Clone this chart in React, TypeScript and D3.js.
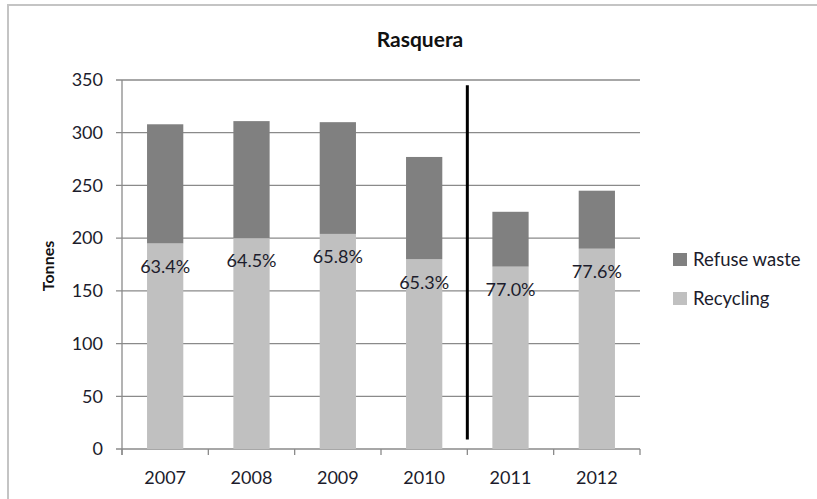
import React, { useEffect, useRef } from 'react';
import * as d3 from 'd3';

// chart data
const years = ['2007', '2008', '2009', '2010', '2011', '2012'];
const recycling = [195, 200, 204, 180, 173, 190];
const refuse = [113, 111, 106, 97, 52, 55];
const shareLabels = ['63.4%', '64.5%', '65.8%', '65.3%', '77.0%', '77.6%'];
const yTicks = [0, 50, 100, 150, 200, 250, 300, 350];
const seriesNames = ['Refuse waste', 'Recycling'];
const seriesColors = ['#808080', '#c0c0c0'];

const FONT = 'Lato, "Open Sans", sans-serif';
const TEXT = '#1c1c2c';

const App = () => {
    const svgRef = useRef<SVGSVGElement>(null);

    useEffect(() => {
        const svg = d3.select(svgRef.current);
        svg.selectAll('*').remove();

        const left = 122, right = 640, top = 80, bottom = 449;

        const x = d3.scaleBand()
            .domain(years)
            .range([left, right])
            .paddingInner(0.58)
            .paddingOuter(0.29);
        const y = d3.scaleLinear().domain([0, 350]).range([bottom, top]);
        const step = x.step();

        // outer chart frame (cropped on right / bottom)
        svg.append('rect')
            .attr('x', 8).attr('y', 5)
            .attr('width', 900).attr('height', 600)
            .attr('fill', 'white')
            .attr('stroke', '#c4c4c4')
            .attr('stroke-width', 2);

        // title
        svg.append('text')
            .attr('x', 420).attr('y', 40)
            .attr('dy', '0.35em')
            .attr('text-anchor', 'middle')
            .attr('font-family', FONT)
            .attr('font-weight', 'bold')
            .attr('font-size', 21)
            .attr('fill', '#111')
            .text('Rasquera');

        // gridlines + y tick labels
        const grid = svg.append('g');
        grid.selectAll('line')
            .data(yTicks)
            .enter()
            .append('line')
            .attr('x1', left - 6)
            .attr('x2', right)
            .attr('y1', d => y(d))
            .attr('y2', d => y(d))
            .attr('stroke', '#8a8a8a')
            .attr('stroke-width', 1.3);
        grid.selectAll('text')
            .data(yTicks)
            .enter()
            .append('text')
            .attr('x', 103)
            .attr('y', d => y(d))
            .attr('dy', '0.35em')
            .attr('text-anchor', 'end')
            .attr('font-family', FONT)
            .attr('font-size', 18)
            .attr('fill', TEXT)
            .text(d => d);

        // y axis line
        svg.append('line')
            .attr('x1', left).attr('x2', left)
            .attr('y1', top).attr('y2', bottom + 6)
            .attr('stroke', '#8a8a8a')
            .attr('stroke-width', 1.3);

        // bottom tick marks at category boundaries
        svg.append('g')
            .selectAll('line')
            .data(d3.range(years.length + 1))
            .enter()
            .append('line')
            .attr('x1', i => left + i * step)
            .attr('x2', i => left + i * step)
            .attr('y1', bottom)
            .attr('y2', bottom + 6)
            .attr('stroke', '#8a8a8a')
            .attr('stroke-width', 1.3);

        // stacked bars
        const bars = svg.append('g');
        bars.selectAll('.rec')
            .data(years)
            .enter()
            .append('rect')
            .attr('class', 'rec')
            .attr('x', d => x(d))
            .attr('y', (d, i) => y(recycling[i]))
            .attr('width', x.bandwidth())
            .attr('height', (d, i) => y(0) - y(recycling[i]))
            .attr('fill', seriesColors[1]);
        bars.selectAll('.ref')
            .data(years)
            .enter()
            .append('rect')
            .attr('class', 'ref')
            .attr('x', d => x(d))
            .attr('y', (d, i) => y(recycling[i] + refuse[i]))
            .attr('width', x.bandwidth())
            .attr('height', (d, i) => y(recycling[i]) - y(recycling[i] + refuse[i]))
            .attr('fill', seriesColors[0]);

        // percentage labels
        svg.append('g')
            .selectAll('text')
            .data(years)
            .enter()
            .append('text')
            .attr('x', d => x(d) + x.bandwidth() / 2)
            .attr('y', (d, i) => y(recycling[i]) + 23)
            .attr('dy', '0.35em')
            .attr('text-anchor', 'middle')
            .attr('font-family', FONT)
            .attr('font-size', 18)
            .attr('fill', TEXT)
            .text((d, i) => shareLabels[i]);

        // x labels
        svg.append('g')
            .selectAll('text')
            .data(years)
            .enter()
            .append('text')
            .attr('x', d => x(d) + x.bandwidth() / 2)
            .attr('y', 478)
            .attr('dy', '0.35em')
            .attr('text-anchor', 'middle')
            .attr('font-family', FONT)
            .attr('font-size', 18)
            .attr('fill', TEXT)
            .text(d => d);

        // separator between 2010 and 2011
        const sepX = left + years.indexOf('2011') * step;
        svg.append('line')
            .attr('x1', sepX).attr('x2', sepX)
            .attr('y1', y(345)).attr('y2', y(9))
            .attr('stroke', '#000')
            .attr('stroke-width', 3);

        // y title
        svg.append('text')
            .attr('transform', 'translate(48,266) rotate(-90)')
            .attr('dy', '0.35em')
            .attr('text-anchor', 'middle')
            .attr('font-family', FONT)
            .attr('font-weight', 'bold')
            .attr('font-size', 16)
            .attr('fill', '#111')
            .text('Tonnes');

        // legend
        const legend = svg.append('g');
        seriesNames.forEach((name, i) => {
            const ly = 260 + i * 39;
            legend.append('rect')
                .attr('x', 673).attr('y', ly - 7)
                .attr('width', 14).attr('height', 13)
                .attr('fill', seriesColors[i]);
            legend.append('text')
                .attr('x', 693).attr('y', ly)
                .attr('dy', '0.35em')
                .attr('font-family', FONT)
                .attr('font-size', 18.5)
                .attr('fill', TEXT)
                .text(name);
        });
    }, []);

    return (
        <svg
            ref={svgRef}
            width={817}
            height={499}
            style={{ position: 'absolute', left: 0, top: 0, background: 'white' }}
        ></svg>
    );
};

export default App;
